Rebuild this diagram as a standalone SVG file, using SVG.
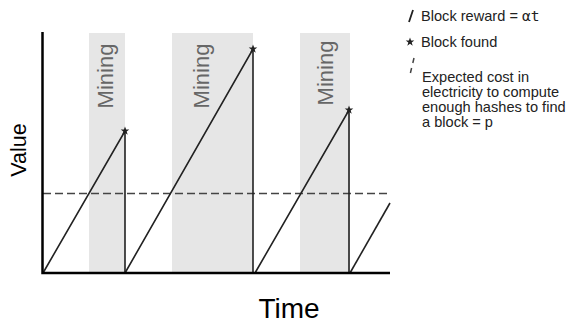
<svg xmlns="http://www.w3.org/2000/svg" width="569" height="324" viewBox="0 0 569 324">
<style>
.band{fill:#e6e6e6}
.mining{font-family:"Liberation Sans",Arial,sans-serif;font-size:22px;fill:#666;text-anchor:middle}
.axis{stroke:#000;stroke-width:2.5;fill:none}
.rw{stroke:#222;stroke-width:1.6;fill:none}
.cost{stroke:#444;stroke-width:1.6;stroke-dasharray:8 4;fill:none}
.lbl{font-family:"Liberation Sans",Arial,sans-serif;fill:#000}
.leg{font-family:"Liberation Sans",Arial,sans-serif;font-size:14.6px;fill:#222}
.star{fill:#222}
</style>
<defs>
<path id="star" d="M0,-4.5 L1.1,-1.4 4.3,-1.4 1.7,0.6 2.7,3.7 0,1.8 -2.7,3.7 -1.7,0.6 -4.3,-1.4 -1.1,-1.4Z"/>
</defs>
<rect width="569" height="324" fill="#fff"/>
<g id="bands">
<rect class="band" x="89" y="33" width="36" height="240"/>
<rect class="band" x="172" y="33" width="81" height="240"/>
<rect class="band" x="300" y="33" width="50" height="240"/>
<text class="mining" transform="translate(113,76) rotate(-90)">Mining</text>
<text class="mining" transform="translate(209,76) rotate(-90)">Mining</text>
<text class="mining" transform="translate(333,73) rotate(-90)">Mining</text>
</g>
<g id="connectors">
<line class="cost" x1="43" y1="193.5" x2="388" y2="193.5"/>
<polyline class="rw" points="43,273 125,131 125,273"/>
<polyline class="rw" points="125,273 253,49 253,273"/>
<polyline class="rw" points="255,273 349,110 349,273"/>
<line class="rw" x1="350" y1="273" x2="390" y2="203"/>
</g>
<g id="stars">
<use href="#star" class="star" x="125" y="131"/>
<use href="#star" class="star" x="253" y="49"/>
<use href="#star" class="star" x="349" y="110"/>
</g>
<g id="axes">
<polyline class="axis" points="42.5,32 42.5,273 390,273"/>
<text class="lbl" font-size="21.5" text-anchor="middle" transform="translate(26,150) rotate(-90)">Value</text>
<text class="lbl" font-size="28" x="289" y="318" text-anchor="middle">Time</text>
</g>
<g id="legend">
<line x1="409" y1="22" x2="413" y2="10" stroke="#222" stroke-width="1.8"/>
<text class="leg" x="421" y="21">Block reward = <tspan font-family="'DejaVu Sans Mono',monospace">αt</tspan></text>
<use href="#star" class="star" x="410" y="42"/>
<text class="leg" x="421" y="47">Block found</text>
<path d="M414,58 L412.8,63 M411.6,68 L410.4,73" stroke="#444" stroke-width="1.5" fill="none"/>
<text class="leg" x="422" y="82">Expected cost in<tspan x="422" dy="15">electricity to compute</tspan><tspan x="422" dy="15">enough hashes to find</tspan><tspan x="422" dy="15">a block  = p</tspan></text>
</g>
</svg>
